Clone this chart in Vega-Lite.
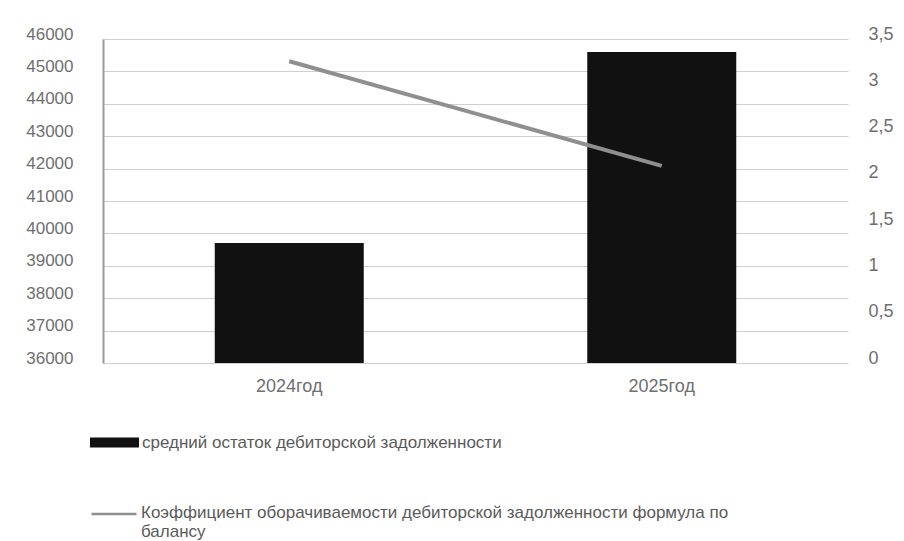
{
  "$schema": "https://vega.github.io/schema/vega-lite/v6.json",
  "autosize": "none",
  "width": 745,
  "height": 324,
  "padding": {"left": 103, "top": 39, "right": 56, "bottom": 178},
  "background": "white",
  "config": {"view": {"stroke": null}},
  "data": {"values": [
    {"year": "2024год", "debt": 39700, "ratio": 3.26},
    {"year": "2025год", "debt": 45600, "ratio": 2.13}
  ]},
  "encoding": {
    "x": {"field": "year", "type": "nominal", "sort": null,
      "scale": {"paddingInner": 0.6, "paddingOuter": 0.3},
      "axis": {"title": null, "labelAngle": 0, "domain": false, "ticks": false, "labelPadding": 14,
        "labelFont": "Liberation Sans", "labelFontSize": 18, "labelColor": "#6f6f6f"}}
  },
  "layer": [
    {
      "mark": {"type": "bar", "color": "#111111", "clip": true},
      "encoding": {
        "y": {"field": "debt", "type": "quantitative",
          "scale": {"domain": [36000, 46000], "zero": false, "nice": false},
          "axis": {"title": null, "values": [36000, 37000, 38000, 39000, 40000, 41000, 42000, 43000, 44000, 45000, 46000],
            "format": "d", "grid": true, "gridColor": "#cfcfcf", "gridWidth": 1,
            "domain": true, "domainColor": "#9a9a9a", "domainWidth": 2, "ticks": false,
            "labelPadding": 30, "labelOffset": -5,
            "labelFont": "Liberation Sans", "labelFontSize": 17, "labelColor": "#6f6f6f"}},
        "y2": {"datum": 36000},
        "fill": {"datum": "средний остаток дебиторской задолженности",
          "scale": {"range": ["#111111"]},
          "legend": {"title": null, "orient": "none", "legendX": -13, "legendY": 379, "padding": 0,
            "symbolType": "M-1,-0.2H1V0.2H-1Z", "symbolSize": 2401, "symbolStrokeWidth": 0,
            "labelFont": "Liberation Sans", "labelFontSize": 17, "labelColor": "#5a5a5a", "labelOffset": 3, "labelLimit": 800}}
      }
    },
    {
      "mark": {"type": "line", "strokeWidth": 4},
      "encoding": {
        "y": {"field": "ratio", "type": "quantitative",
          "scale": {"domain": [0, 3.5], "nice": false},
          "axis": {"title": null, "orient": "right", "values": [0, 0.5, 1, 1.5, 2, 2.5, 3, 3.5],
            "labelExpr": "replace(format(datum.value, '~g'), '.', ',')",
            "grid": false, "domain": false, "ticks": false, "labelAlign": "left",
            "labelPadding": 20, "labelOffset": -5,
            "labelFont": "Liberation Sans", "labelFontSize": 18, "labelColor": "#6f6f6f"}},
        "stroke": {"datum": "Коэффициент оборачиваемости дебиторской задолженности формула по балансу",
          "scale": {"range": ["#8f8f8f"]},
          "legend": {"title": null, "orient": "none", "legendX": -13, "legendY": 442, "padding": 0,
            "symbolType": "M-1,0.4H1", "symbolSize": 2025, "symbolStrokeWidth": 2.5,
            "labelExpr": "['Коэффициент оборачиваемости дебиторской задолженности формула по', 'балансу']",
            "labelBaseline": "top",
            "labelFont": "Liberation Sans", "labelFontSize": 17, "labelColor": "#5a5a5a", "labelOffset": 3, "labelLimit": 800}}
      }
    }
  ],
  "resolve": {"scale": {"y": "independent"}}
}
